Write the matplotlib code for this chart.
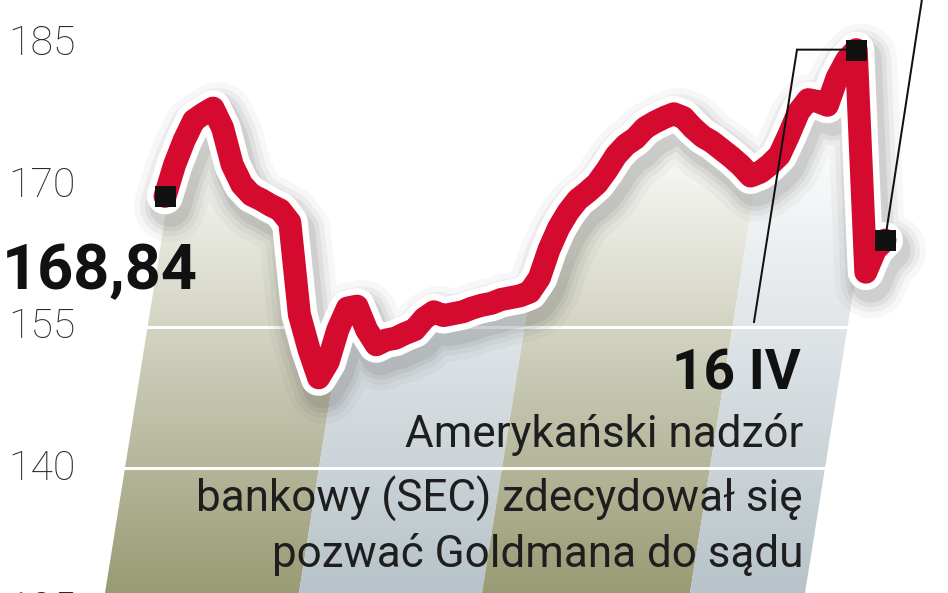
import numpy as np
import matplotlib
matplotlib.use("Agg")
import matplotlib.pyplot as plt
from matplotlib.patches import Polygon
from matplotlib.transforms import offset_copy

# ---------------- data ----------------
# Goldman Sachs share price (USD), trading days from 31 XII 2009 to ~20 IV 2010
prices = [168.84, 172.2, 174.8, 176.9, 177.6, 178.2, 176.1, 172.2, 170.1, 169.0,
          168.5, 167.9, 167.4, 166.1, 156.3, 152.6, 149.6, 151.3, 154.7, 157.0,
          157.2, 154.7, 153.1, 153.6, 153.8, 154.3, 154.7, 155.9, 156.6, 156.2,
          156.4, 156.6, 157.0, 157.3, 157.5, 157.9, 158.1, 158.3, 158.7, 160.2,
          163.2, 165.5, 167.2, 168.5, 169.3, 170.2, 171.6, 173.2, 174.3, 175.0,
          176.1, 176.7, 177.2, 177.6, 177.2, 176.1, 175.2, 174.6, 173.8, 173.0,
          172.1, 171.0, 171.4, 172.2, 173.2, 175.4, 177.8, 179.1, 178.9, 178.5,
          181.4, 183.3, 184.4, 160.8, 163.2, 164.2]
days = list(range(len(prices)))
start_label = "168,84"
ytick_values = [185, 170, 155, 140, 125]
grid_values = [155, 140, 125]
months = ["I", "II", "III", "IV"]
event_label = "16 IV"
event_text = ["Amerykański nadzór", "bankowy (SEC) zdecydował się", "pozwać Goldmana do sądu"]

# ---------------- layout ----------------
W, H, DPI = 948, 593, 100
X0, DX = 165, 9.6      # pixel of day 0, pixels per trading day
Y0, DY = 44, 9.43      # pixel of 185, pixels per 1 USD


def px2d(px):
    return (px - X0) / DX


def py2v(py):
    return 185 - (py - Y0) / DY


def pt(px):
    return px * 72.0 / DPI


plt.rcParams["font.family"] = ["Roboto", "DejaVu Sans"]

fig = plt.figure(figsize=(W / DPI, H / DPI), dpi=DPI)
fig.patch.set_facecolor("white")
ax = fig.add_axes([0, 0, 1, 1])
ax.axis("off")
ax.set_xlim(px2d(0), px2d(W))
ax.set_ylim(py2v(H), py2v(0))

# ---------------- month bands (slanted, gradient, under the curve) ----------------
band_edges_bottom = [105, 299, 482, 690, 805]   # px at the bottom edge
slant = 0.16
band_top_py = 120
band_colors = ["#999b74", "#b7c3c9", "#999b74", "#b7c3c9"]
n = 300
rows_py = np.linspace(band_top_py, H, n)
t = np.clip((rows_py - 125) / (H - 125), 0, 1)
for i, m in enumerate(months):
    xb0, xb1 = band_edges_bottom[i], band_edges_bottom[i + 1]
    dtop = slant * (H - band_top_py)
    verts = [(px2d(xb0), py2v(H)), (px2d(xb1), py2v(H)),
             (px2d(xb1 + dtop), py2v(band_top_py)), (px2d(xb0 + dtop), py2v(band_top_py))]
    poly = Polygon(verts, closed=True, facecolor="none", edgecolor="none")
    ax.add_patch(poly)
    base = np.array(matplotlib.colors.to_rgb(band_colors[i]))
    img = np.ones((n, 1, 3)) * (1 - t[:, None, None]) + base[None, None, :] * t[:, None, None]
    im = ax.imshow(img, extent=(px2d(xb0), px2d(xb1 + dtop), py2v(H), py2v(band_top_py)),
                   origin="upper", aspect="auto", zorder=1, interpolation="bilinear")
    im.set_clip_path(poly)

# gridlines
for v in grid_values:
    ax.axhline(v, color="white", lw=pt(3), zorder=2)

# white above the curve (bands live only under the line)
ax.fill_between(days, prices, py2v(-10), color="white", lw=0, zorder=2.5)

# ---------------- line with shadow + white outline ----------------
shadow_tr = offset_copy(ax.transData, fig=fig, x=5, y=-10, units="dots")
for lw_px, a in [(72, 0.045), (60, 0.06), (50, 0.08), (41, 0.10)]:
    ax.plot(days, prices, color="#4a4a4a", lw=pt(lw_px), alpha=a, transform=shadow_tr,
            solid_joinstyle="round", solid_capstyle="round", zorder=3)
ax.plot(days, prices, color="white", lw=pt(36), solid_joinstyle="round",
        solid_capstyle="round", zorder=4)
ax.plot(days, prices, color="#d40a2e", lw=pt(23), solid_joinstyle="round",
        solid_capstyle="round", zorder=5)

# markers: start, peak, last
i_peak = int(np.argmax(prices))
for i in [0, i_peak, len(prices) - 1]:
    ax.plot(days[i], prices[i], marker="s", color="#111111", markersize=pt(21),
            markeredgewidth=0, zorder=7)

# leader lines
ax.plot([days[i_peak], px2d(797), px2d(754)],
        [prices[i_peak], prices[i_peak], py2v(322)],
        color="#111111", lw=pt(2), zorder=6, solid_joinstyle="miter")
ax.plot([days[-1], px2d(928)], [prices[-1], py2v(-40)],
        color="#111111", lw=pt(2), zorder=6)

# ---------------- texts ----------------
for v in ytick_values:
    ax.text(px2d(8), v, str(v), ha="left", va="center", fontsize=pt(41),
            fontweight="light", color="#2a2a2a", zorder=8)

ax.text(px2d(2), py2v(289), start_label, ha="left", va="baseline", fontsize=pt(63),
        fontweight="bold", color="#111111", zorder=8)

ax.text(px2d(801), py2v(390), event_label, ha="right", va="baseline", fontsize=pt(55),
        fontweight="bold", color="#111111", zorder=8)
for txt, base_py in zip(event_text, [447, 512, 567]):
    ax.text(px2d(803), py2v(base_py), txt, ha="right", va="baseline", fontsize=pt(44),
            fontweight="normal", color="#1e1e1e", zorder=8)

fig.savefig("out.png", dpi=DPI, facecolor="white")
